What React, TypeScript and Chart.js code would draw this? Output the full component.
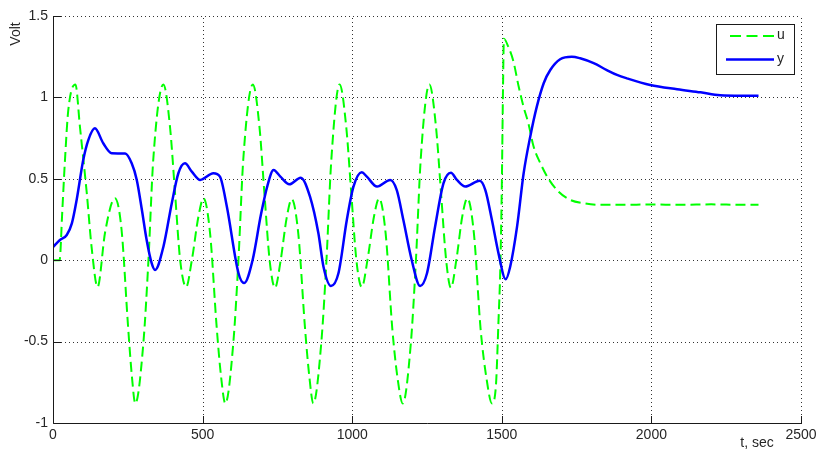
import React, { useEffect, useRef } from 'react';
import { Chart, registerables } from 'chart.js';

Chart.register(...registerables);

const X_TICKS = [0, 500, 1000, 1500, 2000, 2500];
const Y_TICKS = [-1, -0.5, 0, 0.5, 1, 1.5];
const U_LABEL = 'u';
const Y_LABEL = 'y';
const X_TITLE = 't, sec';
const Y_TITLE = 'Volt';

const U_T = [
  0, 22, 31, 40, 51, 75, 90, 113, 129, 149, 174, 207, 229, 251, 264, 275,
  302, 319, 335, 369, 391, 408, 425, 445, 464, 486, 503, 525, 547, 562, 576,
  603, 620, 636, 668, 690, 707, 724, 742, 761, 781, 798, 820, 842, 857, 870,
  897, 914, 930, 958, 980, 997, 1014, 1032, 1051, 1073, 1090, 1112, 1134, 1152, 1169,
  1196, 1213, 1229, 1258, 1280, 1297, 1314, 1330, 1348, 1368, 1385, 1407, 1429, 1450, 1467,
  1480, 1489, 1495, 1500, 1504, 1507, 1522, 1539, 1556, 1573, 1589, 1606, 1629, 1656, 1690, 1729, 1773, 1829, 1900, 2000, 2100, 2200, 2300, 2358,
];
const U_V = [
  0, 0, 0.3, 0.615, 0.92, 1.08, 0.82, 0.41, 0.08, -0.165, 0.17, 0.38, 0.19, -0.41, -0.72, -0.88,
  -0.51, 0, 0.615, 1.08, 0.82, 0.41, 0, -0.165, 0, 0.267, 0.38, 0.165, -0.41, -0.72, -0.88,
  -0.5, 0.01, 0.62, 1.08, 0.82, 0.4, 0, -0.17, 0, 0.26, 0.375, 0.16, -0.41, -0.72, -0.88,
  -0.5, 0, 0.61, 1.08, 0.82, 0.41, 0, -0.165, 0, 0.27, 0.38, 0.16, -0.42, -0.73, -0.88,
  -0.51, 0, 0.62, 1.08, 0.82, 0.41, 0, -0.17, 0, 0.27, 0.38, 0.16, -0.42, -0.74, -0.88,
  -0.78, -0.37, -0.05, 0.45, 1.05, 1.36, 1.31, 1.22, 1.07, 0.94, 0.84, 0.7, 0.595, 0.5, 0.42, 0.37, 0.35, 0.34, 0.34, 0.342, 0.34, 0.343, 0.34, 0.34,
];

const Y_T = [
  0, 23, 46, 63, 79, 101, 118, 140, 168, 196, 241, 263, 280, 297, 313, 330, 341,
  369, 397, 419, 441, 464, 492, 536, 558, 581, 620, 639,
  667, 695, 717, 737, 760, 790, 828, 859, 887, 904, 929,
  954, 982, 1004, 1032, 1049, 1083, 1127, 1149, 1171, 1199, 1227,
  1250, 1277, 1305, 1330, 1350, 1378, 1426, 1445, 1467, 1489, 1513,
  1528, 1551, 1573, 1595, 1617, 1640, 1662, 1695, 1734, 1762, 1807, 1851, 1885, 1918, 1996, 2086, 2164, 2230, 2300, 2358,
];
const Y_V = [
  0.08, 0.124, 0.155, 0.226, 0.37, 0.615, 0.738, 0.81, 0.718, 0.657, 0.655, 0.595, 0.493, 0.31, 0.124, -0.02, -0.06,
  0.083, 0.35, 0.534, 0.595, 0.544, 0.493, 0.534, 0.513, 0.33, -0.08, -0.14,
  0.0, 0.28, 0.46, 0.554, 0.513, 0.466, 0.507, 0.39, 0.165, -0.04, -0.158,
  -0.08, 0.247, 0.45, 0.54, 0.513, 0.452, 0.493, 0.431, 0.247, 0.0, -0.158,
  -0.08, 0.206, 0.472, 0.537, 0.493, 0.452, 0.488, 0.431, 0.247, 0.042, -0.117,
  -0.04, 0.206, 0.534, 0.759, 0.943, 1.087, 1.168, 1.234, 1.25, 1.24, 1.21, 1.168, 1.138, 1.117, 1.076, 1.05, 1.031, 1.013, 1.01, 1.01,
];

const GREEN = '#00ff00';
const BLUE = '#0000ff';
const FAMILY = '"Liberation Sans", Arial, sans-serif';
const FONT = '14px ' + FAMILY;
const TEXT = '#262626';

const decorPlugin = {
  id: 'decor',
  beforeDatasetsDraw(chart: any) {
    const { ctx, chartArea: a, scales } = chart;
    const xs = scales.x;
    const ys = scales.y;
    ctx.save();
    ctx.strokeStyle = '#333';
    ctx.lineWidth = 1;
    ctx.setLineDash([1, 3]);
    X_TICKS.forEach((v) => {
      if (v === X_TICKS[0]) return;
      const px = Math.round(xs.getPixelForValue(v)) + 0.5;
      ctx.beginPath();
      ctx.moveTo(px, a.bottom);
      ctx.lineTo(px, a.top);
      ctx.stroke();
    });
    Y_TICKS.forEach((v) => {
      if (v === Y_TICKS[0]) return;
      const py = Math.round(ys.getPixelForValue(v)) + 0.5;
      ctx.beginPath();
      ctx.moveTo(a.left, py);
      ctx.lineTo(a.right, py);
      ctx.stroke();
    });
    ctx.restore();
  },
  afterDraw(chart: any) {
    const { ctx, chartArea: a, scales } = chart;
    const xs = scales.x;
    const ys = scales.y;
    const L = Math.round(a.left) + 0.5;
    const B = Math.round(a.bottom) + 0.5;
    ctx.save();
    ctx.setLineDash([]);
    ctx.strokeStyle = '#1a1a1a';
    ctx.lineWidth = 1;
    ctx.beginPath();
    ctx.moveTo(L, Math.round(a.top));
    ctx.lineTo(L, B);
    ctx.lineTo(Math.round(a.right) + 1, B);
    ctx.stroke();
    const tl = 7.5;
    X_TICKS.forEach((v) => {
      const px = Math.round(xs.getPixelForValue(v)) + 0.5;
      ctx.beginPath();
      ctx.moveTo(px, B);
      ctx.lineTo(px, B - tl);
      ctx.stroke();
    });
    Y_TICKS.forEach((v) => {
      const py = Math.round(ys.getPixelForValue(v)) + 0.5;
      ctx.beginPath();
      ctx.moveTo(L, py);
      ctx.lineTo(L + tl, py);
      ctx.stroke();
    });

    // axis titles
    ctx.fillStyle = TEXT;
    ctx.font = FONT;
    ctx.textAlign = 'center';
    ctx.textBaseline = 'middle';
    ctx.fillText(X_TITLE, 757, 443);
    ctx.save();
    ctx.translate(16, 34);
    ctx.rotate(-Math.PI / 2);
    ctx.fillText(Y_TITLE, 0, 0);
    ctx.restore();

    // legend
    const lx = 716.5, ly = 24.5, lw = 78, lh = 50;
    ctx.fillStyle = '#ffffff';
    ctx.fillRect(lx, ly, lw, lh);
    ctx.strokeStyle = '#1a1a1a';
    ctx.lineWidth = 1;
    ctx.strokeRect(lx, ly, lw, lh);
    ctx.lineWidth = 2;
    ctx.strokeStyle = GREEN;
    ctx.setLineDash([11, 5.5]);
    ctx.beginPath();
    ctx.moveTo(730, 36);
    ctx.lineTo(774, 36);
    ctx.stroke();
    ctx.setLineDash([]);
    ctx.lineWidth = 2.5;
    ctx.strokeStyle = BLUE;
    ctx.beginPath();
    ctx.moveTo(726, 59.5);
    ctx.lineTo(774, 59.5);
    ctx.stroke();
    ctx.fillStyle = TEXT;
    ctx.textAlign = 'left';
    ctx.textBaseline = 'middle';
    ctx.fillText(chart.data.datasets[0].label, 777, 35);
    ctx.fillText(chart.data.datasets[1].label, 777, 59);
    ctx.restore();
  },
};

export default function App() {
  const ref = useRef<HTMLCanvasElement | null>(null);
  useEffect(() => {
    if (!ref.current) return;
    const chart = new Chart(ref.current, {
      type: 'line',
      data: {
        datasets: [
          {
            label: U_LABEL,
            data: U_T.map((t, i) => ({ x: t, y: U_V[i] })),
            borderColor: GREEN,
            borderWidth: 2,
            borderDash: [10, 5],
            pointRadius: 0,
            cubicInterpolationMode: 'monotone',
            fill: false,
            order: 1,
          },
          {
            label: Y_LABEL,
            data: Y_T.map((t, i) => ({ x: t, y: Y_V[i] })),
            borderColor: BLUE,
            borderWidth: 2.5,
            pointRadius: 0,
            cubicInterpolationMode: 'monotone',
            fill: false,
            order: 0,
          },
        ],
      },
      options: {
        animation: false,
        responsive: false,
        maintainAspectRatio: false,
        layout: { padding: { top: 16, right: 17, left: 0, bottom: 0 } },
        plugins: { legend: { display: false }, tooltip: { enabled: false } },
        scales: {
          x: {
            type: 'linear',
            min: 0,
            max: 2500,
            afterBuildTicks: (s: any) => { s.ticks = X_TICKS.map((v) => ({ value: v })); },
            afterFit: (s: any) => { s.height = 32; s.paddingLeft = 0; s.paddingRight = 0; },
            grid: { display: false, drawTicks: false },
            border: { display: false },
            ticks: {
              padding: 4,
              maxRotation: 0,
              autoSkip: false,
              color: TEXT,
              font: { family: FAMILY, size: 14 },
              callback: (v: any) => String(v),
            },
          },
          y: {
            type: 'linear',
            min: -1,
            max: 1.5,
            afterBuildTicks: (s: any) => { s.ticks = Y_TICKS.map((v) => ({ value: v })); },
            afterFit: (s: any) => { s.width = 53; s.paddingTop = 0; s.paddingBottom = 0; },
            grid: { display: false, drawTicks: false },
            border: { display: false },
            ticks: {
              padding: 5,
              autoSkip: false,
              color: TEXT,
              font: { family: FAMILY, size: 14 },
              callback: (v: any) => String(v),
            },
          },
        },
      } as any,
      plugins: [decorPlugin],
    });
    return () => chart.destroy();
  }, []);
  return (
    <div style={{ position: 'absolute', left: 0, top: 0, width: 818, height: 455, background: '#fff' }}>
      <canvas ref={ref} width={818} height={455} style={{ display: 'block' }} />
    </div>
  );
}
